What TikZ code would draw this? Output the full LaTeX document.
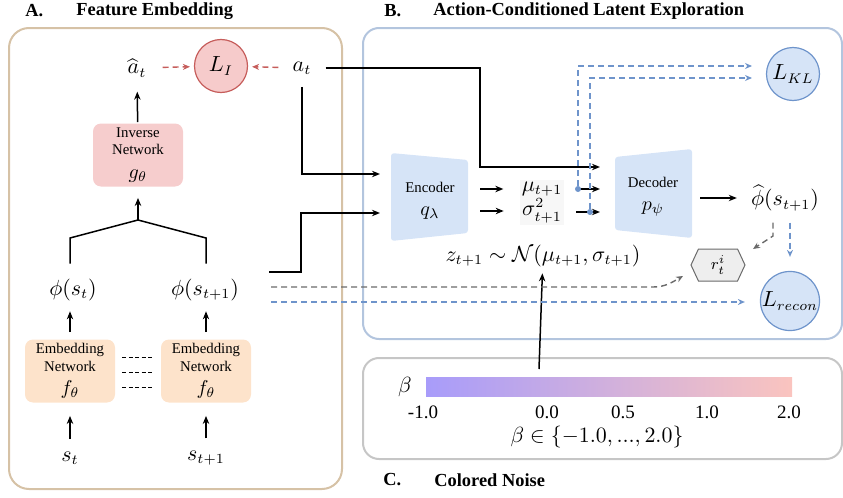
\documentclass[tikz,border=0pt]{standalone}
\usepackage{fontspec}
\setmainfont{Liberation Serif}
\usetikzlibrary{arrows.meta,shapes.symbols}
\definecolor{panelA}{HTML}{D6C2A6}
\definecolor{panelB}{HTML}{B3C5DE}
\definecolor{panelC}{HTML}{C6C6C6}
\definecolor{lossred}{HTML}{C65D5B}
\definecolor{losspink}{HTML}{F6CBCB}
\definecolor{invpink}{HTML}{F6CDCD}
\definecolor{embpeach}{HTML}{FDE3CB}
\definecolor{netblue}{HTML}{D6E4F7}
\definecolor{lossblue}{HTML}{6E94CB}
\definecolor{dashgray}{HTML}{6A6A6A}
\definecolor{hexgray}{HTML}{EEEEEE}
\definecolor{barblue}{HTML}{A89CFA}
\definecolor{barpink}{HTML}{FAC4BF}
\begin{document}
\begin{tikzpicture}
  [x=0.5pt,y=-0.5pt,
   every node/.style={inner sep=1pt,font=\fontsize{10.5}{12}\selectfont},
   netbox/.style={rounded corners=4pt,minimum width=45pt,minimum height=31.5pt,align=center,font=\fontsize{7.4}{8.6}\selectfont},
   netmath/.style={font=\fontsize{7.4}{8.6}\selectfont,align=center},
   loss/.style={circle,minimum size=26.5pt,inner sep=0pt,line width=0.6pt},
   arr/.style={-{Stealth[length=4pt,width=3.2pt]},line width=0.75pt},
   dasharr/.style={-{Stealth[length=3.5pt,width=3pt]},dash pattern=on 3pt off 2pt,line width=0.7pt},
   panel/.style={rounded corners=8pt,line width=1pt},
   title/.style={anchor=west,inner sep=0pt,font=\fontsize{9.2}{11}\selectfont\bfseries},
   tick/.style={font=\fontsize{9.5}{11}\selectfont}]
  \useasboundingbox (0,0) rectangle (843,498);

  % panels and titles
  \draw[panel,draw=panelA,rounded corners=10pt] (9,28) rectangle (342,489);
  \draw[panel,draw=panelB] (363,28) rectangle (842,339);
  \draw[panel,draw=panelC] (363,358) rectangle (842,459);
  \node[title] (tA) at (25,11) {A.};
  \node[title] (tAname) at (76,11) {Feature Embedding};
  \node[title] (tB) at (384,11) {B.};
  \node[title] (tBname) at (433,11) {Action-Conditioned Latent Exploration};
  \node[title] (tC) at (383,480) {C.};
  \node[title] (tCname) at (434,480) {Colored Noise};

  % A. feature embedding
  \node (ahat) at (137,68) {$\widehat{a}_t$};
  \node[loss,fill=losspink,draw=lossred] (LI) at (221,66) {$L_I$};
  \node (act) at (302,68) {$a_t$};
  \node[netbox,fill=invpink] (inv) at (138,155) {Inverse\\Network\\[3pt]{\fontsize{10}{10}\selectfont$g_\theta$}};
  \coordinate (fork) at (138,220);
  \node (phi0) at (73,290) {$\phi(s_t)$};
  \node (phi1) at (205,290) {$\phi(s_{t+1})$};
  \node[netbox,fill=embpeach] (emb0) at (70,371) {Embedding\\Network\\[3pt]{\fontsize{10}{10}\selectfont$f_\theta$}};
  \node[netbox,fill=embpeach] (emb1) at (206,371) {Embedding\\Network\\[3pt]{\fontsize{10}{10}\selectfont$f_\theta$}};
  \node (s0) at (70,458) {$s_t$};
  \node (s1) at (206,458) {$s_{t+1}$};

  \path[arr]
    (s0) edge [shorten <=5pt,shorten >=6.5pt] (emb0)
    (s1) edge [shorten <=5pt,shorten >=6.5pt] (emb1)
    (emb0.north) edge [shorten <=3.5pt,shorten >=4pt] (emb0.north |- phi0.south)
    (emb1.north) edge [shorten <=3.5pt,shorten >=4pt] (emb1.north |- phi1.south)
    (fork) edge [shorten >=5.5pt] (inv)
    (inv) edge [shorten <=0.5pt,shorten >=6pt] (ahat)
    ;
  \draw[line width=0.75pt] ([yshift=6.5pt]emb0.north |- phi0.north) -- (70,238) -- (fork)
    -- (206,238) -- ([yshift=6.5pt]emb1.north |- phi1.north);
  \path[dasharr,color=lossred]
    (ahat) edge [shorten <=7pt,shorten >=2pt] (LI)
    (act) edge [shorten <=6pt,shorten >=2pt] (LI)
    ;
  \foreach \dy in {7,-0.5,-8}
    \draw[line width=0.5pt,dash pattern=on 2pt off 1.2pt,shorten <=3.5pt,shorten >=4.5pt]
      ([yshift=\dy pt]emb0.east) -- ([yshift=\dy pt]emb1.west);

  % B. action-conditioned latent exploration
  \fill[netblue,rounded corners=1.5pt] (391,153) -- (468,160) -- (468,233) -- (391,241) -- cycle;
  \fill[netblue,rounded corners=1.5pt] (615,157) -- (692,149) -- (692,238) -- (615,230) -- cycle;
  \node[netmath] (enc) at (430,201) {Encoder\\[3pt]{\fontsize{10}{10}\selectfont$q_\lambda$}};
  \node[netmath] (dec) at (653,197) {Decoder\\[3pt]{\fontsize{10}{10}\selectfont$p_\psi$}};
  \node[fill=black!3] (mu) at (542,189) {$\mu_{t+1}$};
  \node[fill=black!3] (sig) at (542,211) {$\sigma^2_{t+1}$};
  \node (phihat) at (785,198) {$\widehat{\phi}(s_{t+1})$};
  \node[loss,fill=netblue,draw=lossblue] (LKL) at (793,74) {$L_{KL}$};
  \node[loss,fill=netblue,draw=lossblue] (Lrec) at (790,301) {$L_{recon}$};
  \node[shape=signal,signal to=east and west,signal pointer angle=130,draw=dashgray,
        fill=hexgray,line width=0.5pt,minimum width=27pt,minimum height=16pt,inner sep=0pt,
        font=\fontsize{8}{9}\selectfont] (rti) at (718,265) {$r_t^i$};
  \node (zeq) at (543,256) {$z_{t+1}\sim\mathcal{N}(\mu_{t+1},\sigma_{t+1})$};

  \coordinate (ein1) at (380,174);
  \coordinate (ein2) at (380,213);
  \coordinate (din0) at (600,167);
  \coordinate (din1) at (600,189);
  \coordinate (din2) at (600,212);
  \coordinate (kl1) at (752,66);
  \coordinate (kl2) at (752,78);
  \coordinate (g1) at (773,236);
  \coordinate (rtin) at (753,249);
  \coordinate (rtin2) at (683,276);
  \coordinate (noise) at (539,369);

  \draw[arr,shorten <=6pt] (act.east) -- (480,68) -- (480,167) -- (din0);
  \draw[arr,shorten <=5pt] (act.south) |- (ein1);
  \draw[arr,shorten <=14pt] ([yshift=9pt]phi1.east) -- (301,272) -- (301,213) -- (ein2);
  \draw[arr,shorten <=11.5pt,shorten >=8pt] (mu.west -| enc.east) -- (mu.west);
  \draw[arr,shorten <=11.5pt,shorten >=8pt] (sig.west -| enc.east) -- (sig.west);
  \draw[arr,shorten <=6pt] (mu) -- (din1);
  \draw[arr,shorten <=6pt] (sig.east |- din2) -- (din2);
  \draw[arr,shorten <=10pt,shorten >=6pt] (dec.east |- phihat) -- (phihat);
  \draw[arr,shorten >=2pt] (noise) -- (zeq);

  \node[circle,fill=lossblue,inner sep=0pt,minimum size=3pt] (k1) at (578,189) {};
  \node[circle,fill=lossblue,inner sep=0pt,minimum size=3pt] (k2) at (590,212) {};
  \draw[dasharr,color=lossblue] (k1) |- (kl1);
  \draw[dasharr,color=lossblue] (k2) |- (kl2);
  \draw[dasharr,color=lossblue,shorten <=4.5pt,shorten >=7pt] (phihat.south -| Lrec.north) -- (Lrec.north);
  \draw[dasharr,color=dashgray,shorten <=4.5pt] (phihat.south -| g1) -- (g1) -- (rtin);
  \draw[dasharr,color=dashgray,shorten <=15pt] ([yshift=1.5pt]phi1.east) -- (653,287) to[out=0,in=-150] (rtin2);
  \draw[dasharr,color=lossblue,shorten <=15pt,shorten >=7.5pt] ([yshift=-6pt]phi1.east) -- ([yshift=-6pt]phi1.east -| Lrec.west);

  % C. colored noise
  \shade[left color=barblue,right color=barpink] (426,377) rectangle (792,396);
  \node (beta) at (405,387) {$\beta$};
  \node[tick] (tm1) at (423,412) {-1.0};
  \node[tick] (t0) at (547,412) {0.0};
  \node[tick] (t05) at (623,412) {0.5};
  \node[tick] (t1) at (707,412) {1.0};
  \node[tick] (t2) at (789,412) {2.0};
  \node (brange) at (597,437) {$\beta\in\{-1.0,...,2.0\}$};
\end{tikzpicture}
\end{document}
